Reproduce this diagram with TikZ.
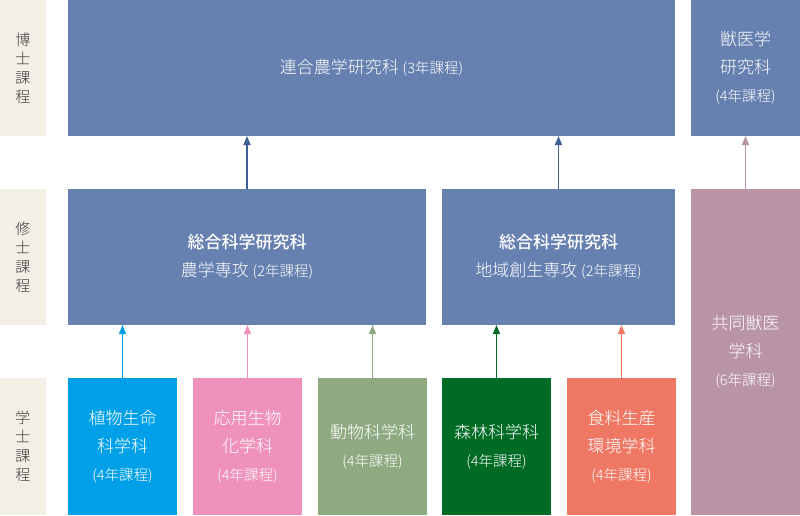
\documentclass[tikz,border=0pt]{standalone}
\usepackage{fontspec}
\setmainfont{Noto Sans CJK JP}[UprightFont=* Light, BoldFont=* Medium]
\usetikzlibrary{arrows.meta}
\definecolor{kenkyu}{HTML}{6681B0}
\definecolor{kenkyuarrow}{HTML}{3F5F96}
\definecolor{juui}{HTML}{B894A6}
\definecolor{shokubutsu}{HTML}{00A0E9}
\definecolor{ouyou}{HTML}{EE92BB}
\definecolor{doubutsu}{HTML}{8EAA80}
\definecolor{shinrin}{HTML}{006B25}
\definecolor{shokuryo}{HTML}{EE7864}
\definecolor{lblbg}{HTML}{F3EFE7}
\definecolor{lbltext}{HTML}{3A3A3A}
\tikzset{
 box/.style={anchor=north west, inner sep=0pt, outer sep=0pt, align=center, text=white, font=\fontsize{17}{28}\selectfont},
 lbl/.style={anchor=north west, inner sep=0pt, outer sep=0pt, fill=lblbg, align=center, text=lbltext, font=\fontsize{15}{19}\selectfont, minimum width=46pt, minimum height=136pt},
 up/.style={-{Triangle[length=9pt,width=7pt]}, line width=1.5pt}
}
\newcommand{\nen}[1]{{\fontsize{14.5}{28}\selectfont (#1年課程)}}
\begin{document}
\begin{tikzpicture}[x=1pt, y=-1pt]
 \useasboundingbox (0,0) rectangle (800,515);
%左の課程ラベル
 \node[lbl] (L1) at (0,0) {博\\士\\課\\程};
 \node[lbl] (L2) at (0,189) {修\\士\\課\\程};
 \node[lbl, minimum height=137pt] (L3) at (0,378) {学\\士\\課\\程};
%博士課程
 \node[box, fill=kenkyu, minimum width=607pt, minimum height=136pt] (D1) at (68,0) {連合農学研究科 \nen{3}};
 \node[box, fill=kenkyu, minimum width=109pt, minimum height=136pt] (D2) at (691,0) {獣医学\\研究科\\\nen{4}};
%修士課程
 \node[box, fill=kenkyu, minimum width=358pt, minimum height=136pt] (M1) at (68,189) {\textbf{総合科学研究科}\\農学専攻 \nen{2}};
 \node[box, fill=kenkyu, minimum width=233pt, minimum height=136pt] (M2) at (442,189) {\textbf{総合科学研究科}\\地域創生専攻 \nen{2}};
 \node[box, fill=juui, minimum width=109pt, minimum height=326pt] (M3) at (691,189) {共同獣医\\学科\\\nen{6}};
%学士課程
 \node[box, fill=shokubutsu, minimum width=109pt, minimum height=137pt] (B1) at (68,378) {植物生命\\科学科\\\nen{4}};
 \node[box, fill=ouyou, minimum width=109pt, minimum height=137pt] (B2) at (193,378) {応用生物\\化学科\\\nen{4}};
 \node[box, fill=doubutsu, minimum width=109pt, minimum height=137pt] (B3) at (318,378) {動物科学科\\\nen{4}};
 \node[box, fill=shinrin, minimum width=109pt, minimum height=137pt] (B4) at (442,378) {森林科学科\\\nen{4}};
 \node[box, fill=shokuryo, minimum width=109pt, minimum height=137pt] (B5) at (567,378) {食料生産\\環境学科\\\nen{4}};
%矢印
 \draw[up, kenkyuarrow] (M1.north) -- (M1.north |- D1.south);
 \draw[up, kenkyuarrow] (M2.north) -- (M2.north |- D1.south);
 \draw[up, juui] (M3.north) -- (D2.south);
 \draw[up, shokubutsu] (B1.north) -- (B1.north |- M1.south);
 \draw[up, ouyou] (B2.north) -- (B2.north |- M1.south);
 \draw[up, doubutsu] (B3.north) -- (B3.north |- M1.south);
 \draw[up, shinrin] (B4.north) -- (B4.north |- M2.south);
 \draw[up, shokuryo] (B5.north) -- (B5.north |- M2.south);
\end{tikzpicture}
\end{document}
